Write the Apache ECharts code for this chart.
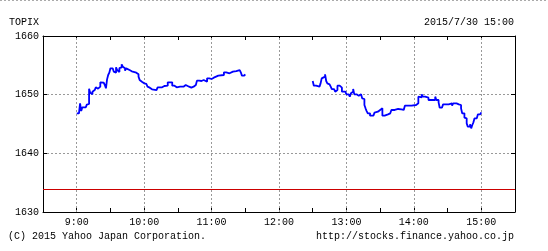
<!DOCTYPE html>
<html>
<head>
<meta charset="utf-8">
<script src="https://cdn.jsdelivr.net/npm/echarts@6/dist/echarts.min.js"></script>
<style>
html,body{margin:0;padding:0;background:#fff;}
#c{width:548px;height:251px;}
</style>
</head>
<body>
<div id="c"></div>
<script>
// Time as minutes since midnight; values are TOPIX index levels
const amMinutes = [540,542,543,544,545,548,549,550,551,552,553,554,555,556,557,558,559,560,561,562,564,565,566,567,568,569,570,572,573,574,575,576,577,578,579,580,581,582,583,584,585,587,589,593,594,595,596,597,598,600,602,603,604,605,607,611,612,616,618,619,621,623,624,625,627,629,630,632,633,635,637,638,640,642,644,646,647,649,651,653,654,656,658,660,662,664,666,667,671,673,676,679,682,685,686,687,689,690];
const amValues = [1646.82,1646.65,1648.52,1647.21,1647.84,1647.95,1648.30,1648.41,1651.02,1650.34,1650.06,1650.51,1650.79,1650.79,1651.25,1651.02,1651.25,1651.36,1652.10,1652.05,1651.93,1651.65,1651.08,1652.61,1653.35,1653.75,1654.49,1654.49,1653.92,1653.75,1654.66,1654.20,1653.86,1654.54,1654.66,1655.17,1654.77,1654.49,1654.09,1654.49,1654.20,1653.98,1653.75,1653.92,1653.47,1653.07,1652.50,1652.21,1651.93,1651.82,1651.65,1651.36,1651.19,1650.91,1650.79,1650.79,1651.25,1651.48,1651.19,1651.53,1652.10,1652.33,1652.10,1651.53,1651.25,1651.08,1651.36,1651.53,1651.36,1651.65,1651.65,1651.36,1651.19,1651.36,1651.65,1651.93,1652.39,1652.33,1652.50,1652.44,1652.21,1652.78,1652.67,1652.90,1653.07,1653.24,1653.47,1653.35,1653.81,1653.64,1653.92,1654.03,1654.20,1654.20,1653.81,1653.24,1653.24,1653.47];
const pmMinutes = [750,751,753,754,756,757,758,759,761,762,763,764,765,766,767,769,770,771,772,774,775,776,779,780,782,783,784,785,786,787,789,791,793,794,795,796,797,798,799,801,804,805,806,808,810,811,812,814,815,817,819,820,823,826,829,831,832,834,835,838,842,843,844,845,847,848,850,851,853,857,859,860,862,863,865,866,871,872,874,875,878,880,882,883,885,886,887,888,890,891,892,893,894,896,897,899,900];
const pmValues = [1652.33,1651.53,1651.65,1651.36,1651.53,1651.93,1652.78,1653.07,1653.47,1652.33,1651.93,1651.76,1651.53,1651.36,1650.96,1650.96,1650.51,1650.79,1651.53,1651.53,1651.19,1650.51,1650.40,1650.06,1649.94,1649.66,1650.23,1650.51,1650.96,1650.06,1649.83,1650.06,1649.94,1649.37,1649.26,1648.24,1647.67,1647.21,1646.82,1646.42,1646.53,1646.93,1647.10,1647.39,1647.56,1647.67,1646.42,1646.25,1646.65,1646.82,1646.82,1647.39,1647.56,1647.50,1647.39,1647.67,1648.12,1647.95,1648.12,1648.24,1648.24,1648.52,1649.66,1649.55,1650.06,1649.66,1649.37,1649.49,1649.09,1649.09,1649.66,1649.09,1648.69,1647.78,1648.12,1648.35,1648.35,1648.52,1648.12,1648.52,1648.35,1648.24,1647.67,1646.82,1646.08,1645.97,1645.11,1644.55,1644.94,1644.26,1644.83,1645.28,1645.97,1645.85,1646.65,1646.99,1647.10];
const prevClose = 1633.87;
const hourTicks = [540,600,660,720,780,840,900];
const yTicks = [1630,1640,1650,1660];

const FONT = '"Liberation Mono","DejaVu Sans Mono",monospace';
const zip = (xs, ys) => xs.map((x, i) => [x, ys[i]]);
const fmtTime = v => Math.floor(v / 60) + ':' + String(v % 60).padStart(2, '0');

const chart = echarts.init(document.getElementById('c'), null, {renderer: 'canvas'});
const axisCommon = {
  type: 'value', min: 510, max: 930, interval: 30,
  axisLine: {show: true, lineStyle: {color: '#000', width: 1}},
  axisTick: {show: true, inside: true, length: 4, lineStyle: {color: '#000'}},
  splitLine: {show: false}
};
chart.setOption({
  animation: false,
  graphic: [
    {type: 'line', shape: {x1: 0, y1: 0.5, x2: 548, y2: 0.5}, style: {stroke: '#aaa', lineDash: [2, 2], lineWidth: 1}},
    {type: 'text', left: 9, top: 17, style: {text: 'TOPIX', font: '10px ' + FONT, fill: '#000'}},
    {type: 'text', right: 34, top: 17, style: {text: '2015/7/30 15:00', font: '10px ' + FONT, fill: '#000'}},
    {type: 'text', left: 8, top: 231, style: {text: '(C) 2015 Yahoo Japan Corporation.', font: '10px ' + FONT, fill: '#000'}},
    {type: 'text', right: 34, top: 231, style: {text: 'http://stocks.finance.yahoo.co.jp', font: '10px ' + FONT, fill: '#000'}}
  ],
  grid: {left: 43, right: 33, top: 36, bottom: 39, containLabel: false},
  xAxis: [
    Object.assign({}, axisCommon, {
      position: 'bottom',
      axisLabel: {show: true, margin: 5, fontFamily: FONT, fontSize: 10, color: '#000',
        formatter: v => (v % 60 === 0 && hourTicks.includes(v)) ? fmtTime(v) : ''}
    }),
    Object.assign({}, axisCommon, {position: 'top', axisLabel: {show: false}})
  ],
  yAxis: [
    {type: 'value', min: 1630, max: 1660, interval: 10, position: 'left',
      axisLine: {show: true, lineStyle: {color: '#000'}},
      axisTick: {show: true, inside: true, length: 4, lineStyle: {color: '#000'}},
      axisLabel: {show: true, margin: 4, fontFamily: FONT, fontSize: 10, color: '#000',
        formatter: v => yTicks.includes(v) ? String(v) : ''},
      splitLine: {show: true, lineStyle: {color: '#999', type: [2, 2], width: 1}}},
    {type: 'value', min: 1630, max: 1660, interval: 10, position: 'right',
      axisLine: {show: true, lineStyle: {color: '#000'}},
      axisTick: {show: true, inside: true, length: 4, lineStyle: {color: '#000'}},
      axisLabel: {show: false}, splitLine: {show: false}}
  ],
  series: [
    {type: 'line', name: 'grid', data: [], silent: true,
      markLine: {symbol: 'none', silent: true, label: {show: false},
        lineStyle: {color: '#999', type: [2, 2], width: 1},
        data: hourTicks.map(h => ({xAxis: h}))}},
    {type: 'line', name: 'prev', data: [], silent: true,
      markLine: {symbol: 'none', silent: true, label: {show: false},
        lineStyle: {color: '#cc0000', type: 'solid', width: 1},
        data: [{yAxis: prevClose}]}},
    {type: 'line', name: 'am', data: zip(amMinutes, amValues), step: 'end', showSymbol: false,
      lineStyle: {color: '#0000ff', width: 1.8}, z: 5},
    {type: 'line', name: 'pm', data: zip(pmMinutes, pmValues), step: 'end', showSymbol: false,
      lineStyle: {color: '#0000ff', width: 1.8}, z: 5}
  ]
});
</script>
</body>
</html>
